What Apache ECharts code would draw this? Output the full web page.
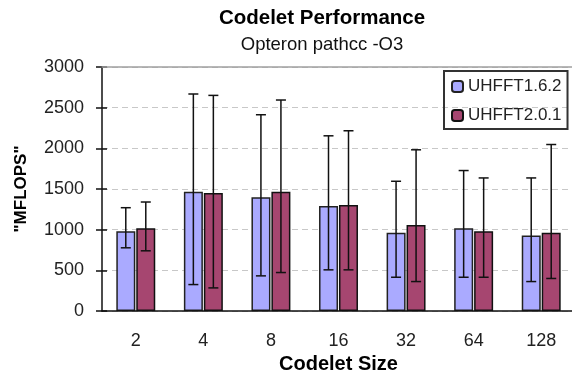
<!DOCTYPE html>
<html>
<head>
<meta charset="utf-8">
<script src="https://cdn.jsdelivr.net/npm/echarts@6/dist/echarts.min.js"></script>
<style>
    html, body { margin: 0; padding: 0; background: #fff; }
    #chart { width: 572px; height: 378px; }
</style>
</head>
<body>
<div id="chart"></div>
<script>
const sizes = ['2', '4', '8', '16', '32', '64', '128'];
const yTicks = [0, 500, 1000, 1500, 2000, 2500, 3000];

const oldMean = [980, 1465, 1400, 1290, 962, 1016, 928];
const oldHigh = [1270, 2668, 2413, 2154, 1595, 1727, 1636];
const oldLow = [777, 325, 432, 506, 415, 415, 362];

const newMean = [1016, 1451, 1467, 1303, 1057, 980, 962];
const newHigh = [1340, 2651, 2594, 2216, 1982, 1636, 2047];
const newLow = [740, 284, 473, 506, 362, 415, 400];

const BAR_W = 19;
const FONT = '"Liberation Sans", Arial, sans-serif';

function errorRows(low, high) {
    return sizes.map((_, i) => [i, low[i], high[i]]);
}

function errorRenderer(offset) {
    return (params, api) => {
        const top = api.coord([api.value(0), api.value(2)]);
        const bottom = api.coord([api.value(0), api.value(1)]);
        const x = top[0] + offset;
        const cap = 5;
        const style = { stroke: '#111', lineWidth: 1.5 };
        return {
            type: 'group',
            children: [
                { type: 'line', shape: { x1: x, y1: top[1], x2: x, y2: bottom[1] }, style },
                { type: 'line', shape: { x1: x - cap, y1: top[1], x2: x + cap, y2: top[1] }, style },
                { type: 'line', shape: { x1: x - cap, y1: bottom[1], x2: x + cap, y2: bottom[1] }, style },
            ],
        };
    };
}

const chart = echarts.init(document.getElementById('chart'));

chart.setOption({
    animation: false,
    backgroundColor: '#fff',
    title: [
        {
            text: 'Codelet Performance',
            left: 317,
            textAlign: 'center',
            top: 3,
            textStyle: { fontFamily: FONT, fontSize: 20.5, fontWeight: 'bold', color: '#000', lineHeight: 21 },
        },
        {
            text: 'Opteron pathcc -O3',
            left: 317,
            textAlign: 'center',
            top: 31,
            textStyle: { fontFamily: FONT, fontSize: 18.5, fontWeight: 'normal', color: '#111', lineHeight: 18 },
        },
    ],
    legend: {
        orient: 'vertical',
        left: 444,
        top: 71,
        padding: [7, 6, 5, 7],
        itemGap: 12,
        itemWidth: 11,
        itemHeight: 11,
        borderColor: '#333',
        borderWidth: 2,
        data: ['UHFFT1.6.2', 'UHFFT2.0.1'],
        textStyle: { fontFamily: FONT, fontSize: 17, color: '#222', lineHeight: 17 },
    },
    grid: { left: 102, right: -3, top: 67, bottom: 67, containLabel: false, outerBoundsMode: 'none' },
    xAxis: [
        {
            type: 'category',
            data: sizes,
            name: 'Codelet Size',
            nameLocation: 'middle',
            nameGap: 40,
            nameTextStyle: { fontFamily: FONT, fontSize: 20, fontWeight: 'bold', color: '#000' },
            axisLine: { lineStyle: { color: '#111', width: 1.5 } },
            axisTick: { length: 5, lineStyle: { color: '#111', width: 1.5 } },
            axisLabel: { fontFamily: FONT, fontSize: 18, color: '#222', margin: 21 },
            z: 3,
        },
        {
            type: 'category',
            data: sizes,
            position: 'top',
            axisLine: { onZero: false, lineStyle: { color: '#a0a0a0', width: 1.5 } },
            axisTick: { show: false },
            axisLabel: { show: false },
            z: 3,
        },
    ],
    yAxis: [
        {
            type: 'value',
            min: 0,
            max: 3000,
            interval: 500,
            name: '"MFLOPS"',
            nameLocation: 'middle',
            nameRotate: 90,
            nameGap: 72,
            nameTextStyle: { fontFamily: FONT, fontSize: 17, fontWeight: 'bold', color: '#000' },
            axisLine: { show: true, lineStyle: { color: '#111', width: 1.5 } },
            axisTick: { show: true, length: 6, lineStyle: { color: '#111', width: 1.5 } },
            axisLabel: {
                fontFamily: FONT,
                fontSize: 18,
                color: '#222',
                margin: 18,
                formatter: (v) => (yTicks.includes(v) ? String(v) : ''),
            },
            splitLine: { show: true, lineStyle: { color: '#c8c8c8', type: [6, 4], width: 1.2 } },
        },
        {
            type: 'value',
            min: 0,
            max: 3000,
            interval: 500,
            position: 'left',
            axisLine: { show: false, onZero: false },
            axisTick: { show: true, inside: true, length: 5, lineStyle: { color: '#111', width: 1.5 } },
            axisLabel: { show: false },
            splitLine: { show: false },
        },
    ],
    series: [
        {
            name: 'UHFFT1.6.2',
            type: 'bar',
            data: oldMean,
            barWidth: BAR_W,
            barGap: '5%',
            itemStyle: { color: '#aaaaff', borderColor: '#222', borderWidth: 1.5 },
        },
        {
            name: 'UHFFT2.0.1',
            type: 'bar',
            data: newMean,
            barWidth: BAR_W,
            barGap: '5%',
            itemStyle: { color: '#a64670', borderColor: '#111', borderWidth: 1.5 },
        },
        {
            type: 'custom',
            data: errorRows(oldLow, oldHigh),
            encode: { x: 0, y: [1, 2] },
            renderItem: errorRenderer(-(BAR_W / 2 + 0.5)),
            z: 5,
        },
        {
            type: 'custom',
            data: errorRows(newLow, newHigh),
            encode: { x: 0, y: [1, 2] },
            renderItem: errorRenderer(BAR_W / 2 + 0.5),
            z: 5,
        },
    ],
});
</script>
</body>
</html>
